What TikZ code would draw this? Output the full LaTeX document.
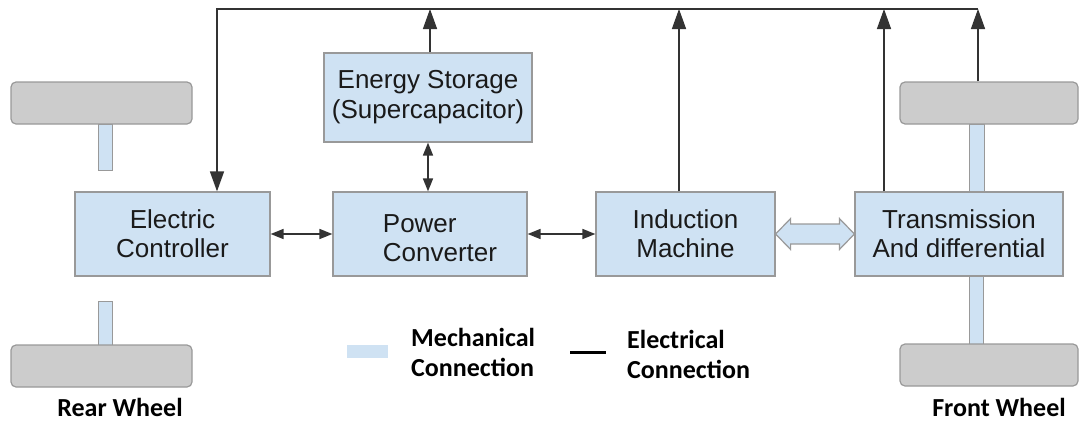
\documentclass[tikz,border=0pt]{standalone}
\usepackage{fontspec}
\setmainfont{Liberation Sans}
\newfontfamily\legendfont{Carlito}
\usetikzlibrary{arrows.meta,calc}
\definecolor{boxfill}{HTML}{CFE2F3}
\definecolor{boxline}{HTML}{999999}
\definecolor{wheelfill}{HTML}{CCCCCC}
\definecolor{wirec}{HTML}{333333}
\definecolor{txt}{HTML}{1A1A1A}
\begin{document}
\begin{tikzpicture}[x=1pt,y=-1pt,
 box/.style={draw=boxline, fill=boxfill, line width=1.2pt, minimum height=84pt, inner sep=0pt, align=center, font=\fontsize{26}{29}\selectfont, text=txt},
 boxtext/.style={align=left, inner sep=0pt, font=\fontsize{26}{29}\selectfont, text=txt},
 wheel/.style={draw=boxline, fill=wheelfill, line width=1.2pt, rounded corners=5pt, minimum width=181pt, minimum height=42pt, inner sep=0pt},
 shaft/.style={draw=boxline, fill=boxfill, line width=1pt, minimum width=14pt, inner sep=0pt},
 wire/.style={draw=wirec, line width=1.5pt},
 bigtip/.style={-{Triangle[length=20pt,width=14pt]}},
 smalltips/.style={{Triangle[length=13pt,width=10pt]}-{Triangle[length=13pt,width=10pt]}},
 legtext/.style={font=\legendfont\bfseries\fontsize{26}{30}\selectfont, align=left, inner sep=0pt, anchor=west},
 wheelcap/.style={font=\legendfont\bfseries\fontsize{26}{30}\selectfont, inner sep=0pt},
]
\useasboundingbox (0,0) rectangle (1079,421);

% shafts
\node[shaft, minimum height=46pt] (rs1) at (105,147) {};
\node[shaft, minimum height=44pt] (rs2) at (105,323) {};
\node[shaft, minimum height=68pt, minimum width=15pt] (fs1) at (976.5,158) {};
\node[shaft, minimum height=68pt] (fs2) at (976,310) {};

% wheels
\node[wheel] (rwt) at (101.5,103) {};
\node[wheel] (rwb) at (101.5,366) {};
\node[wheel, minimum width=178pt] (fwt) at (989,103) {};
\node[wheel, minimum width=178pt] (fwb) at (989,365) {};

% blocks
\node[box, minimum width=195pt] (ctrl) at (172.5,234) {Electric\\Controller};
\node[box, minimum width=194pt, label={[boxtext, xshift=10pt, yshift=-4pt]center:Power\\Converter}] (pc) at (430,234) {};
\node[box, minimum width=179pt] (im) at (685.5,234) {Induction\\Machine};
\node[box, minimum width=208pt] (tr) at (959,234) {Transmission\\And differential};
\node[box, minimum width=208pt, minimum height=89pt, font=\fontsize{26}{30}\selectfont] (es) at (428,97.5) {Energy Storage\\(Supercapacitor)};

% electrical bus
\coordinate (busL) at (217,9);
\coordinate (busR) at (978,9);
\draw[wire,bigtip] (busR) -- (busL) -- (busL |- ctrl.north);
\path ($(es.north)+(2,0)$) coordinate (esup);
\draw[wire,bigtip] (esup) -- (esup |- busL);
\draw[wire,smalltips] (es.south) -- (es.south |- pc.north);
\path ($(im.north)+(-6.5,0)$) coordinate (imup);
\draw[wire,bigtip] (imup) -- (imup |- busL);
\path ($(tr.north)+(-75,0)$) coordinate (trup);
\draw[wire,bigtip] (trup) -- (trup |- busL);
\path ($(fwt.north)+(-11,0)$) coordinate (fwup);
\draw[wire,bigtip] (fwup) -- (fwup |- busL);

\draw[wire,smalltips] (ctrl.east) -- (pc.west);
\draw[wire,smalltips] (pc.east) -- (im.west);

% mechanical hollow double arrow
\draw[draw=boxline, fill=boxfill, line width=1.2pt] (im.east) -- ++(15,-15.5) -- ++(0,5.5) -- ($(tr.west)+(-15,-10)$) -- ++(0,-5.5) -- (tr.west) -- ++(-15,15.5) -- ++(0,-5.5) -- ($(im.east)+(15,10)$) -- ++(0,5.5) -- cycle;

% legend
\node[fill=boxfill, minimum width=41pt, minimum height=13pt, inner sep=0pt] (mech) at (367.5,351.5) {};
\node[legtext] (mechtxt) at (411,352) {Mechanical\\Connection};
\coordinate (eL) at (570,352);
\coordinate (eR) at (606,352);
\draw[line width=3pt] (eL) -- (eR);
\node[legtext] (electxt) at (627,354) {Electrical\\Connection};

\node[wheelcap] (rwlab) at (120,407) {Rear Wheel};
\node[wheelcap] (fwlab) at (999,407) {Front Wheel};
\end{tikzpicture}
\end{document}
